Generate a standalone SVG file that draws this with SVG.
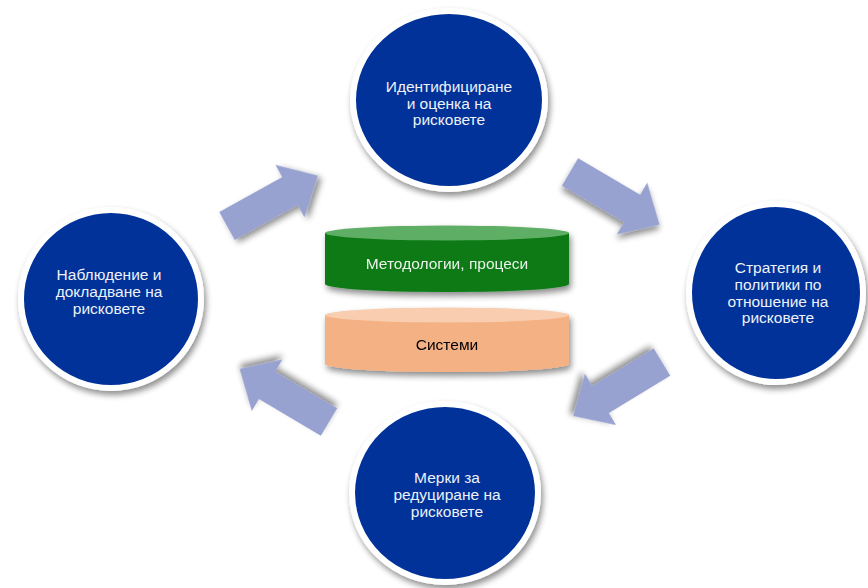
<svg xmlns="http://www.w3.org/2000/svg" width="868" height="588" viewBox="0 0 868 588">
<defs>
<filter id="sh" x="-20%" y="-20%" width="140%" height="140%">
<feGaussianBlur in="SourceAlpha" stdDeviation="3"/>
<feOffset dx="2" dy="4" result="b"/>
<feComponentTransfer><feFuncA type="linear" slope="0.45"/></feComponentTransfer>
<feMerge><feMergeNode/><feMergeNode in="SourceGraphic"/></feMerge>
</filter>
<polygon id="arr" points="0,-16 72,-16 72,-30 104,0 72,30 72,16 0,16"/>
</defs>
<style>
.node{fill:#023399;stroke:#ffffff;stroke-width:6;filter:url(#sh)}
.nt{font-family:"Liberation Sans",Arial,sans-serif;font-size:15.5px;fill:#eef1f8;text-anchor:middle}
.arrow{fill:#98a2d1;filter:url(#sh)}
.ct{font-family:"Liberation Sans",Arial,sans-serif;font-size:15.5px;text-anchor:middle}
</style>
<rect width="868" height="588" fill="#ffffff"/>
<g id="connectors">
<use href="#arr" class="arrow" transform="translate(227,226) rotate(-29)"/>
<use href="#arr" class="arrow" transform="translate(570,172) rotate(30.5)"/>
<use href="#arr" class="arrow" transform="translate(662,362) rotate(148.7)"/>
<use href="#arr" class="arrow" transform="translate(329,422) rotate(210.7)"/>
</g>
<g id="node-top">
<ellipse class="node" cx="449" cy="100" rx="96" ry="89"/>
<text class="nt" x="449" y="92">Идентифициране</text>
<text class="nt" x="449" y="108.5">и оценка на</text>
<text class="nt" x="449" y="125">рисковете</text>
</g>
<g id="node-right">
<ellipse class="node" cx="776" cy="293" rx="87" ry="89"/>
<text class="nt" x="778" y="273">Стратегия и</text>
<text class="nt" x="778" y="290">политики по</text>
<text class="nt" x="778" y="306.5">отношение на</text>
<text class="nt" x="778" y="323">рисковете</text>
</g>
<g id="node-bottom">
<ellipse class="node" cx="445" cy="493" rx="93" ry="89"/>
<text class="nt" x="447" y="483">Мерки за</text>
<text class="nt" x="447" y="500">редуциране на</text>
<text class="nt" x="447" y="516.5">рисковете</text>
</g>
<g id="node-left">
<ellipse class="node" cx="111" cy="299" rx="90" ry="89"/>
<text class="nt" x="109" y="280">Наблюдение и</text>
<text class="nt" x="109" y="297">докладване на</text>
<text class="nt" x="109" y="313.5">рисковете</text>
</g>
<g id="cyl-methods" filter="url(#sh)">
<path d="M325,233 L325,284 A122,8 0 0 0 569,284 L569,233 Z" fill="#087a12"/>
<ellipse cx="447" cy="233" rx="122" ry="7.5" fill="#5fae66"/>
<text class="ct" x="447" y="268.5" fill="#ecf3ec">Методологии, процеси</text>
</g>
<g id="cyl-systems" filter="url(#sh)">
<path d="M325,315 L325,364 A122,8 0 0 0 569,364 L569,315 Z" fill="#f4b183"/>
<ellipse cx="447" cy="315" rx="122" ry="7.5" fill="#f8cdb0"/>
<text class="ct" x="447" y="349.5" fill="#000000">Системи</text>
</g>
</svg>
